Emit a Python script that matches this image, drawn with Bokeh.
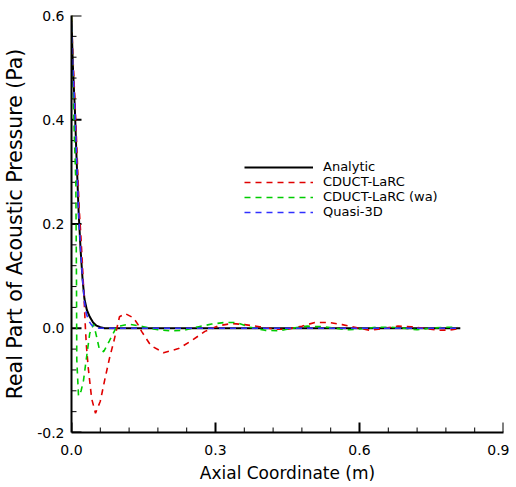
from bokeh.plotting import figure
from bokeh.models import FixedTicker, Legend, LegendItem, Range1d
from bokeh.embed import file_html
from bokeh.resources import INLINE

# Analytic
xa = [0.0, 0.003, 0.007, 0.0104, 0.015, 0.019, 0.023, 0.027, 0.032, 0.038, 0.045, 0.052, 0.06, 0.069, 0.1, 0.2, 0.3, 0.4, 0.5, 0.6, 0.7, 0.81]
ya = [0.59, 0.5, 0.42, 0.33, 0.22, 0.15, 0.095, 0.056, 0.035, 0.022, 0.011, 0.005, 0.002, 0.0, 0.0, 0.0, 0.0, 0.0, 0.0, 0.0, 0.0, 0.0]

# CDUCT-LaRC
xr = [0.0, 0.003, 0.007, 0.011, 0.016, 0.02, 0.024, 0.027, 0.029, 0.031, 0.035, 0.042, 0.05, 0.06, 0.069, 0.079, 0.088, 0.1, 0.112, 0.129, 0.138, 0.146, 0.165, 0.192, 0.223, 0.25, 0.278, 0.307, 0.334, 0.361, 0.392, 0.424, 0.449, 0.48, 0.507, 0.537, 0.564, 0.599, 0.622, 0.651, 0.68, 0.708, 0.735, 0.766, 0.793, 0.81]
yr = [0.6, 0.52, 0.44, 0.35, 0.23, 0.17, 0.1, 0.04, 0.0, -0.033, -0.077, -0.135, -0.163, -0.14, -0.10, -0.058, -0.026, 0.022, 0.028, 0.02, 0.008, -0.006, -0.033, -0.047, -0.039, -0.024, -0.006, 0.005, 0.009, 0.007, 0.003, -0.002, -0.002, 0.004, 0.011, 0.011, 0.007, 0.0, -0.004, 0.0, 0.004, 0.003, 0.0, -0.004, -0.003, 0.0]

# CDUCT-LaRC (wa)
xg = [0.0, 0.003, 0.0056, 0.009, 0.0104, 0.011, 0.0146, 0.02, 0.025, 0.031, 0.038, 0.046, 0.052, 0.058, 0.067, 0.079, 0.094, 0.119, 0.15, 0.18, 0.205, 0.234, 0.265, 0.292, 0.319, 0.344, 0.372, 0.403, 0.432, 0.459, 0.491, 0.522, 0.549, 0.578, 0.605, 0.637, 0.664, 0.693, 0.72, 0.747, 0.777, 0.804]
yg = [0.6, 0.48, 0.38, 0.28, 0.09, -0.06, -0.13, -0.12, -0.10, -0.058, -0.01, 0.008, -0.015, -0.04, -0.045, -0.024, 0.003, 0.008, 0.003, -0.003, -0.005, -0.004, 0.003, 0.008, 0.011, 0.011, 0.002, -0.004, -0.005, 0.0, 0.004, 0.003, 0.0, -0.003, -0.001, 0.002, 0.002, 0.0, -0.003, 0.0, 0.002, 0.002]

# Quasi-3D
xb = [0.0, 0.003, 0.007, 0.0104, 0.015, 0.019, 0.023, 0.027, 0.031, 0.036, 0.042, 0.05, 0.058, 0.07, 0.2, 0.4, 0.6, 0.81]
yb = [0.58, 0.5, 0.42, 0.335, 0.22, 0.15, 0.095, 0.05, 0.028, 0.014, 0.006, 0.002, 0.0, 0.0, 0.0, 0.0, 0.0, 0.0]

x_ticks = [0.0, 0.3, 0.6, 0.9]
x_tick_labels = ["0.0", "0.3", "0.6", "0.9"]
y_ticks = [-0.2, 0.0, 0.2, 0.4, 0.6]
y_tick_labels = ["-0.2", "0.0", "0.2", "0.4", "0.6"]
x_minor = [round(i * 0.06, 2) for i in range(16)]
y_minor = [round(-0.2 + i * 0.04, 2) for i in range(21)]

FONT = "DejaVu Sans"
X0, X1 = x_ticks[0], x_ticks[-1]
Y0, Y1 = y_ticks[0], y_ticks[-1]
FW, FH = 432, 417

p = figure(frame_width=FW, frame_height=FH, output_backend="svg", toolbar_location=None,
           x_range=Range1d(X0, X1), y_range=Range1d(Y0, Y1),
           min_border_left=62, min_border_right=6, min_border_top=15, min_border_bottom=48)
p.outline_line_color = None
p.grid.visible = False
p.background_fill_color = "white"

for ax, ticks, labels, minor in ((p.xaxis[0], x_ticks, x_tick_labels, x_minor),
                                 (p.yaxis[0], y_ticks, y_tick_labels, y_minor)):
    ax.ticker = FixedTicker(ticks=ticks, minor_ticks=minor)
    ax.major_label_overrides = {t: l for t, l in zip(ticks, labels)}
    ax.axis_line_width = 2
    ax.axis_line_color = "black"
    ax.major_tick_in = 0
    ax.major_tick_out = 0
    ax.minor_tick_in = 0
    ax.minor_tick_out = 0
    ax.major_label_text_font = FONT
    ax.major_label_text_font_size = "14px"
    ax.major_label_text_color = "black"
    ax.axis_label_text_font = FONT
    ax.axis_label_text_font_style = "normal"
    ax.axis_label_text_color = "black"

p.xaxis.axis_label = "Axial Coordinate (m)"
p.yaxis.axis_label = "Real Part of Acoustic Pressure (Pa)"
p.xaxis.axis_label_text_font_size = "17px"
p.yaxis.axis_label_text_font_size = "20.5px"
p.xaxis.major_label_standoff = 12
p.yaxis.major_label_standoff = 7
p.xaxis.axis_label_standoff = 5
p.yaxis.axis_label_standoff = 7

# inward tick marks, lengths given in pixels and converted to data units
dx = (X1 - X0) / FW
dy = (Y1 - Y0) / FH
x_minor_only = [m for m in x_minor if all(abs(m - t) > 1e-9 for t in x_ticks)]
y_minor_only = [m for m in y_minor if all(abs(m - t) > 1e-9 for t in y_ticks)]
p.segment(x0=x_ticks, y0=[Y0] * len(x_ticks), x1=x_ticks, y1=[Y0 + 10 * dy] * len(x_ticks),
          line_color="black", line_width=2)
p.segment(x0=x_minor_only, y0=[Y0] * len(x_minor_only), x1=x_minor_only,
          y1=[Y0 + 5 * dy] * len(x_minor_only), line_color="black", line_width=1)
p.segment(x0=[X0] * len(y_ticks), y0=y_ticks, x1=[X0 + 10 * dx] * len(y_ticks), y1=y_ticks,
          line_color="black", line_width=2)
p.segment(x0=[X0] * len(y_minor_only), y0=y_minor_only, x1=[X0 + 5 * dx] * len(y_minor_only),
          y1=y_minor_only, line_color="black", line_width=1)

r_a = p.line(xa, ya, line_color="black", line_width=2)
r_r = p.line(xr, yr, line_color="#e00000", line_width=1.6, line_dash="6 5")
r_g = p.line(xg, yg, line_color="#00cc00", line_width=1.6, line_dash="6 5")
r_b = p.line(xb, yb, line_color="#3030ff", line_width=1.6, line_dash="6 5")

legend = Legend(items=[
    LegendItem(label="Analytic", renderers=[r_a]),
    LegendItem(label="CDUCT-LaRC", renderers=[r_r]),
    LegendItem(label="CDUCT-LaRC (wa)", renderers=[r_g]),
    LegendItem(label="Quasi-3D", renderers=[r_b]),
], location=(173, 213))
legend.background_fill_alpha = 0
legend.border_line_color = None
legend.padding = 0
legend.margin = 0
legend.spacing = 0
legend.glyph_width = 69
legend.glyph_height = 14
legend.label_height = 14
legend.label_standoff = 10
legend.label_text_font = FONT
legend.label_text_font_size = "13px"
legend.label_text_color = "black"
p.add_layout(legend)

open("out.html", "w").write(file_html(p, INLINE))
